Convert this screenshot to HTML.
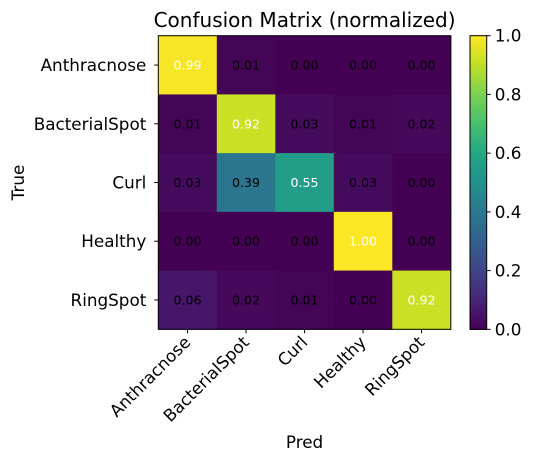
<!DOCTYPE html>
<html><head><meta charset="utf-8"><style>body{margin:0;background:#fff}svg{font-family:"DejaVu Sans","Liberation Sans",sans-serif}</style></head>
<body>
<svg id="c" width="535" height="464" xmlns="http://www.w3.org/2000/svg"></svg>
<script>
const classes=["Anthracnose","BacterialSpot","Curl","Healthy","RingSpot"];
const row0=[0.99,0.01,0.00,0.00,0.00];
const row1=[0.01,0.92,0.03,0.01,0.02];
const row2=[0.03,0.39,0.55,0.03,0.00];
const row3=[0.00,0.00,0.00,1.00,0.00];
const row4=[0.06,0.02,0.01,0.00,0.92];
const cbTicks=[0,0.2,0.4,0.6,0.8,1.0];
const rows=[row0,row1,row2,row3,row4];
const NS="http://www.w3.org/2000/svg",svg=document.getElementById('c');
const L=158.3,R=450.8,T=35.7,B=329.3,n=classes.length,cw=(R-L)/n,ch=(B-T)/n;
const stops=["#440154","#482475","#414487","#355f8d","#2a788e","#21918c","#22a884","#44bf70","#7ad151","#bddf26","#fde725"];
function hx(h){return [1,3,5].map(i=>parseInt(h.substr(i,2),16));}
function vir(v){v=Math.max(0,Math.min(1,v));const p=v*10,i=Math.min(9,Math.floor(p)),f=p-i;const a=hx(stops[i]),b=hx(stops[i+1]);return 'rgb('+a.map((x,k)=>Math.round(x+(b[k]-x)*f)).join(',')+')';}
function el(t,a,txt){const e=document.createElementNS(NS,t);for(const k in a)e.setAttribute(k,a[k]);if(txt!==undefined)e.textContent=txt;svg.appendChild(e);return e;}
const xs=j=>L+cw*(j+0.5), ys=i=>T+ch*(i+0.5);
let e=el('text',{x:(L+R)/2,y:27,'text-anchor':'middle','font-size':20},'Confusion Matrix (normalized)');

rows.forEach((r,i)=>r.forEach((v,j)=>{
 let c=el('rect',{x:L+cw*j,y:T+ch*i,width:cw+0.5,height:ch+0.5,fill:vir(v)});
 
}));
rows.forEach((r,i)=>r.forEach((v,j)=>{
 let t=el('text',{x:xs(j),y:ys(i)+4.5,'text-anchor':'middle','font-size':12.6,fill:v>0.5?'#fff':'#000'},v.toFixed(2));
 
}));
e=el('rect',{x:L,y:T,width:R-L,height:B-T,fill:'none',stroke:'#000','stroke-width':1});

classes.forEach((c,i)=>{
 el('line',{x1:L-4,x2:L,y1:ys(i),y2:ys(i),stroke:'#000'});
 let t=el('text',{x:L-12,y:ys(i)+6,'text-anchor':'end','font-size':16.8},c);
 
 el('line',{x1:xs(i),x2:xs(i),y1:B,y2:B+4,stroke:'#000'});
 let u=el('text',{x:0,y:0,'text-anchor':'end','font-size':16.8,transform:'translate('+(xs(i)+4)+','+(B+14)+') rotate(-45)'},c);
 
});
e=el('text',{x:(L+R)/2,y:448,'text-anchor':'middle','font-size':16.8},'Pred');

e=el('text',{x:0,y:0,'text-anchor':'middle','font-size':16.8,transform:'translate(24,'+((T+B)/2)+') rotate(-90)'},'True');

const CL=470,CR=486.7,N=100;
for(let k=0;k<N;k++){let r=el('rect',{x:CL,y:B-(B-T)*(k+1)/N,width:CR-CL,height:(B-T)/N+0.6,fill:vir((k+0.5)/N)});}
e=el('rect',{x:CL,y:T,width:CR-CL,height:B-T,fill:'none',stroke:'#000'});

cbTicks.forEach(v=>{const y=B-(B-T)*v;el('line',{x1:CR,x2:CR+4,y1:y,y2:y,stroke:'#000'});
 let t=el('text',{x:CR+8,y:y+6,'font-size':16.8},v.toFixed(1));});
</script>
</body></html>
